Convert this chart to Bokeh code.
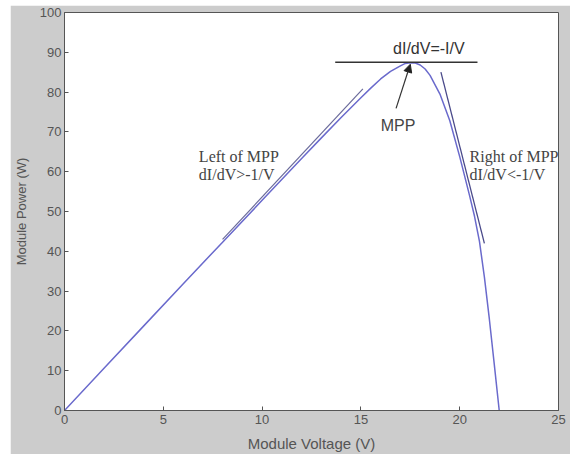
from bokeh.plotting import figure
from bokeh.models import Arrow, NormalHead, Range1d, FixedTicker
from bokeh.core.properties import value
from bokeh.embed import file_html
from bokeh.resources import INLINE

# P-V curve
voltage = [0, 2, 4, 6, 8, 10, 12, 13, 14, 15, 15.5, 16, 16.5, 17, 17.25, 17.5, 17.75, 18,
           18.25, 18.5, 19, 19.5, 20, 20.5, 20.75, 21.0, 21.25, 21.5, 21.75, 22.0]
power = [0, 10.6, 21.2, 31.8, 42.3, 52.8, 63.3, 68.5, 73.6, 78.6, 81.0, 83.3, 85.2, 86.6,
         87.2, 87.4, 87.3, 86.8, 85.8, 84.2, 79.5, 72.8, 63.8, 54.0, 48.8, 42.5, 33.5,
         23.0, 11.6, 0]

# tangent lines
left_tan_v = [8.0, 15.1]
left_tan_p = [43.0, 80.8]
right_tan_v = [19.05, 21.25]
right_tan_p = [85.0, 42.0]
mpp_line_v = [13.7, 20.9]
mpp_line_p = [87.5, 87.5]

# annotations
arrow_start = (16.78, 75.9)
arrow_end = (17.5, 87.0)

x_ticks = [0, 5, 10, 15, 20, 25]
y_ticks = [0, 10, 20, 30, 40, 50, 60, 70, 80, 90, 100]

p = figure(width=560, height=449, output_backend="svg", toolbar_location=None,
           x_range=Range1d(0, 25), y_range=Range1d(0, 100),
           min_border_left=52, min_border_right=12, min_border_top=7, min_border_bottom=44)
p.margin = (5, 0, 0, 10)
p.border_fill_color = "#cccccc"
p.background_fill_color = "white"
p.outline_line_color = "#555555"
p.grid.visible = False

for ax in (p.xaxis[0], p.yaxis[0]):
    ax.major_tick_in = 4
    ax.major_tick_out = 0
    ax.minor_tick_in = 0
    ax.minor_tick_out = 0
    ax.axis_line_color = "#555555"
    ax.major_tick_line_color = "#555555"
    ax.major_label_text_font = "Liberation Sans"
    ax.major_label_text_font_size = "13px"
    ax.major_label_text_color = "#555555"
    ax.axis_label_text_font = "Liberation Sans"
    ax.axis_label_text_font_style = "normal"
    ax.axis_label_text_color = "#555555"

p.xaxis.ticker = FixedTicker(ticks=x_ticks)
p.yaxis.ticker = FixedTicker(ticks=y_ticks)
p.xaxis.axis_label = "Module Voltage (V)"
p.yaxis.axis_label = "Module Power (W)"
p.xaxis.axis_label_text_font_size = "15px"
p.yaxis.axis_label_text_font_size = "13px"
p.xaxis.major_label_standoff = 4
p.xaxis.axis_label_standoff = 8
p.yaxis.major_label_standoff = 3
p.yaxis.axis_label_standoff = 8

p.line(voltage, power, line_color="#6a6acc", line_width=1.5)
p.line(left_tan_v, left_tan_p, line_color="#6a6a9a", line_width=1.2)
p.line(right_tan_v, right_tan_p, line_color="#4a4a8a", line_width=1.3)
p.line(mpp_line_v, mpp_line_p, line_color="#333333", line_width=1.3)

p.add_layout(Arrow(end=NormalHead(size=8, fill_color="#222222", line_color="#222222"),
                   x_start=arrow_start[0], y_start=arrow_start[1],
                   x_end=arrow_end[0], y_end=arrow_end[1],
                   line_color="#333333", line_width=1.2))

serif = value("Liberation Serif")
sans = value("Liberation Sans")
p.text(x=[6.8, 6.8], y=[66.0, 61.5], text=["Left of MPP", "dI/dV>-1/V"],
       text_font=serif, text_font_size="16px", text_color="#444444",
       text_baseline="top", text_align="left")
p.text(x=[20.5, 20.5], y=[66.0, 61.5], text=["Right of MPP", "dI/dV<-1/V"],
       text_font=serif, text_font_size="16px", text_color="#444444",
       text_baseline="top", text_align="left")
p.text(x=[16.88], y=[71.6], text=["MPP"], text_font=sans, text_font_size="16px",
       text_color="#444444", text_baseline="middle", text_align="center")
p.text(x=[18.44], y=[91.0], text=["dI/dV=-I/V"], text_font=sans, text_font_size="16px",
       text_color="#333333", text_baseline="middle", text_align="center")

open("out.html", "w").write(file_html(p, INLINE))
